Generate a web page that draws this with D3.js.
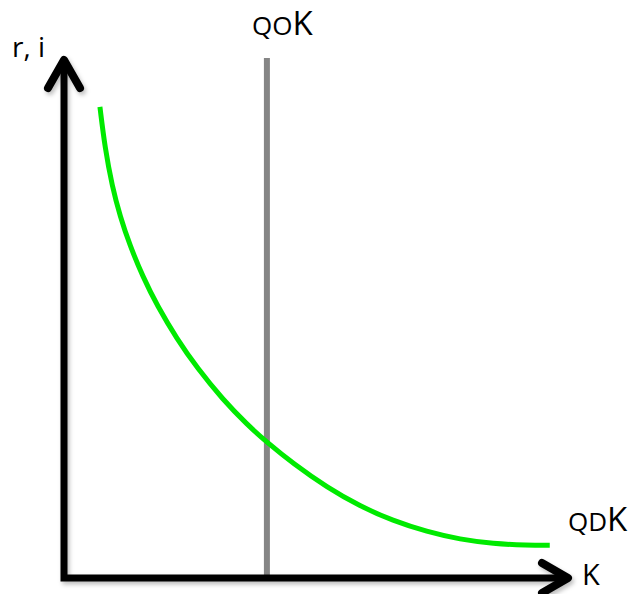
<!DOCTYPE html>
<html>
<head>
<meta charset="utf-8">
<script src="https://cdn.jsdelivr.net/npm/d3@7"></script>
<style>
  body { margin: 0; background: #fff; }
  text { font-family: "Open Sans", sans-serif; fill: #000; }
</style>
</head>
<body>
<div id="chart"></div>
<script>
// demand curve for capital (QDK)
const curveK = [7.1, 8.1, 9.5, 11.1, 13.0, 15.6, 18.4, 22.3, 26.3, 31.4, 36.2, 40.1, 45.3, 52.0, 58.5, 65.0, 71.7, 78.3, 84.8, 91.5, 96.0];
const curveR = [90.6, 82.7, 75.4, 69.5, 64.0, 57.9, 52.4, 46.0, 40.4, 34.3, 29.5, 26.1, 22.0, 17.4, 13.8, 11.0, 8.9, 7.4, 6.6, 6.3, 6.3];
// fixed supply of capital (QOK)
const supplyK = 40.1;
const supplyR = [0, 100];

/** CONSTANTS */
const width = 635,
  height = 594;

/** SCALES */
const xScale = d3.scaleLinear().domain([0, 100]).range([64, 570]);
const yScale = d3.scaleLinear().domain([0, 100]).range([578, 58]);

const svg = d3
  .select("#chart")
  .append("svg")
  .attr("width", width)
  .attr("height", height);

const defs = svg.append("defs");
defs
  .append("filter")
  .attr("id", "shadow")
  .attr("x", "-10%")
  .attr("y", "-10%")
  .attr("width", "120%")
  .attr("height", "120%")
  .append("feDropShadow")
  .attr("dx", 2)
  .attr("dy", 3)
  .attr("stdDeviation", 2)
  .attr("flood-color", "#000")
  .attr("flood-opacity", 0.25);

// supply line (gray vertical)
svg
  .append("line")
  .attr("x1", xScale(supplyK))
  .attr("x2", xScale(supplyK))
  .attr("y1", yScale(supplyR[0]))
  .attr("y2", yScale(supplyR[1]))
  .attr("stroke", "#858585")
  .attr("stroke-width", 6);

// demand curve (green)
const line = d3
  .line()
  .x((d) => xScale(d[0]))
  .y((d) => yScale(d[1]))
  .curve(d3.curveBasis);

svg
  .append("path")
  .datum(d3.zip(curveK, curveR))
  .attr("d", line)
  .attr("fill", "none")
  .attr("stroke", "#00ea00")
  .attr("stroke-width", 5);

// axes with arrows
const axes = svg.append("g").attr("filter", "url(#shadow)");
const x0 = xScale(0),
  y0 = yScale(0),
  xEnd = xScale(100),
  yEnd = yScale(100);

axes
  .append("path")
  .attr("d", `M${x0},${yEnd + 2} L${x0},${y0} L${xEnd - 2},${y0}`)
  .attr("fill", "none")
  .attr("stroke", "#000")
  .attr("stroke-width", 7)
  .attr("stroke-linejoin", "miter");

// arrow heads
axes
  .append("path")
  .attr("d", `M${x0 - 16},${yEnd + 30} L${x0},${yEnd + 2} L${x0 + 16},${yEnd + 30}`)
  .attr("fill", "none")
  .attr("stroke", "#000")
  .attr("stroke-width", 8)
  .attr("stroke-linecap", "round")
  .attr("stroke-linejoin", "round");

axes
  .append("path")
  .attr("d", `M${xEnd - 28},${y0 - 15} L${xEnd - 2},${y0} L${xEnd - 28},${y0 + 15}`)
  .attr("fill", "none")
  .attr("stroke", "#000")
  .attr("stroke-width", 8)
  .attr("stroke-linecap", "round")
  .attr("stroke-linejoin", "round");

/** LABELS */
svg.append("text").attr("x", 12).attr("y", 57).attr("font-size", 28).text("r, i");

svg.append("text").attr("x", 582).attr("y", 585).attr("font-size", 29).text("K");

const qok = svg.append("text").attr("x", 252).attr("y", 35);
qok.append("tspan").attr("font-size", 26).text("QO");
qok.append("tspan").attr("font-size", 33).text("K");

const qdk = svg.append("text").attr("x", 568).attr("y", 531);
qdk.append("tspan").attr("font-size", 26).text("QD");
qdk.append("tspan").attr("font-size", 33).text("K");
</script>
</body>
</html>
